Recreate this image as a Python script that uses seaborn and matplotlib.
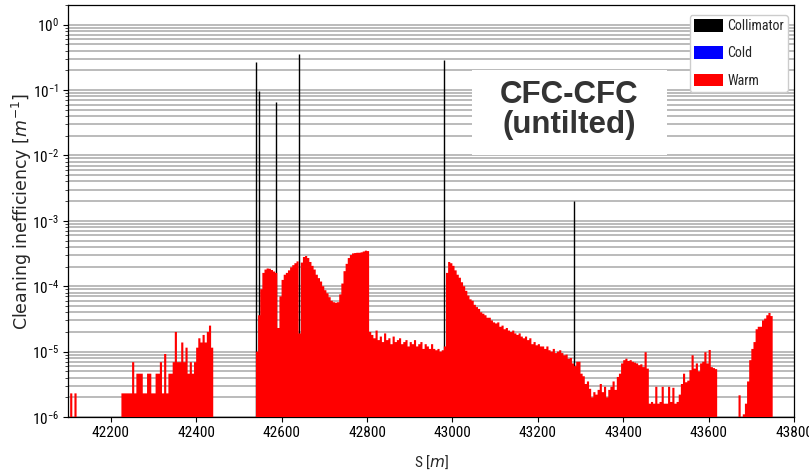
import numpy as np
import pandas as pd
import matplotlib
matplotlib.use("Agg")
import matplotlib.pyplot as plt
import seaborn as sns
from matplotlib import font_manager
from matplotlib.patches import Patch, Rectangle
from matplotlib.ticker import LogLocator, NullFormatter

# ---------------- data ----------------
# Warm-element losses, read per 5 m bin (values in units of 1e-6 m^-1)
BIN = 5.0
warm_seg1_start = 42100
warm_seg1 = [0, 2.3, 0, 2.3]
warm_seg2_start = 42225
warm_seg2 = [2.3, 2.3, 2.3, 2.3, 2.3, 6.9, 2.3, 4.6, 4.6, 4.6, 2.3, 2.3, 4.6, 4.6,
             2.3, 2.3, 4.6, 4.6, 6.9, 2.3, 9.2, 2.3, 4.6, 4.6, 6.9, 20, 6.9, 6.9,
             13.8, 6.9, 11.5, 4.6, 6.9, 4.6, 6.9, 11.5, 16, 13.8, 18, 13.8, 20, 25, 11.5]
warm_seg3_start = 42540
warm_seg3 = [10, 36, 90, 160, 180, 187, 185, 177, 168, 160, 23, 70, 125, 150, 160,
             175, 195, 210, 225, 240, 19, 230, 280, 290, 270, 235, 205, 180, 150,
             133, 118, 100, 87, 78, 68, 60, 57, 56, 57, 75, 110, 170, 220, 270, 300,
             318, 322, 325, 325, 330, 340, 350, 345, 20]
warm_seg4_start = 42810
warm_seg4 = [18, 16, 21, 15, 17, 14, 19, 15, 16, 13, 17, 14, 15, 16, 13, 14, 15, 12,
             14, 13, 15, 12, 13, 14, 11, 13, 12, 11, 13, 11, 10.5, 11, 10, 10.5]
warm_seg5_start = 42980
warm_seg5 = [12, 160, 235, 225, 205, 175, 150, 135, 115, 100,
             85, 72, 63, 60, 52, 48, 45, 40, 38, 36,
             33, 33, 30, 28, 27, 28, 24, 25, 22, 23,
             21, 20, 21, 19, 18, 19, 17, 16, 17, 15,
             16, 13, 14, 12.5, 13, 12, 12, 11, 12, 10.5,
             10, 11, 9.5, 10, 10.5, 9.5, 8.8, 9, 7.8, 8,
             6.6, 6, 7, 7]
warm_seg6_start = 43300
warm_seg6 = [4.6, 4.2, 3.2, 3.5, 2.7, 2.0, 2.4, 2.2, 2.6, 3.2,
             2.4, 2.9, 2.0, 2.6, 2.9, 3.5, 2.6, 4.1, 4.6, 6.6,
             7.4, 7.8, 7.2, 7.4, 7, 6.8, 6.6, 6.2, 6.4, 5.8,
             9.8, 5.5, 1.6, 1.7, 1.6, 2.9, 1.6, 1.7, 2.9, 1.6,
             1.6, 2.9, 1.7, 2.8, 1.6, 1.7, 2.2, 3.2, 4.6, 3.4,
             3.6, 5.2, 8.8, 5.5, 6.6, 5.0, 6.6, 7, 9.8, 6.6,
             10.6, 5.8, 5.6, 5.4]
warm_seg7_start = 43670
warm_seg7 = [2.15, 0, 1.1, 1.6, 3.5, 7.4, 11, 14, 22, 24, 24, 30, 32, 36, 39, 35]

# Collimator losses
coll_s = [42541, 42547, 42588, 42641, 42981, 43285]
coll_v = [0.27, 0.098, 0.066, 0.35, 0.29, 0.002]

x_ticks = [42200, 42400, 42600, 42800, 43000, 43200, 43400, 43600, 43800]
x_ticklabels = ["42200", "42400", "42600", "42800", "43000", "43200", "43400", "43600", "43800"]
legend_labels = ["Collimator", "Cold", "Warm"]
legend_colors = ["#000000", "#0000ff", "#ff0000"]
annotation = "CFC-CFC\n(untilted)"

# ---------------- build table ----------------
segments = [(warm_seg1_start, warm_seg1), (warm_seg2_start, warm_seg2),
            (warm_seg3_start, warm_seg3), (warm_seg4_start, warm_seg4),
            (warm_seg5_start, warm_seg5), (warm_seg6_start, warm_seg6),
            (warm_seg7_start, warm_seg7)]
s_list, v_list = [], []
for start, vals in segments:
    for i, v in enumerate(vals):
        s_list.append(start + BIN * i + BIN / 2)
        v_list.append(v * 1e-6)
df = pd.DataFrame({"S": s_list, "loss": v_list})
edges = [float(e) for e in np.arange(42100, 43750 + BIN, BIN)]

# ---------------- fonts: pick a narrow face if one is installed ----------------
entries = font_manager.fontManager.ttflist
names = {f.name for f in entries}
dejavu_cond = any(f.name == "DejaVu Sans" and "condensed" in str(f.stretch).lower()
                  for f in entries)
if "Liberation Sans Narrow" in names:
    narrow_family, narrow_stretch, tick_fs, leg_fs = "Liberation Sans Narrow", "normal", 11.5, 10.5
elif "Roboto Condensed" in names:
    narrow_family, narrow_stretch, tick_fs, leg_fs = "Roboto Condensed", "normal", 11, 10
elif dejavu_cond:
    narrow_family, narrow_stretch, tick_fs, leg_fs = "DejaVu Sans", "condensed", 10.5, 9.5
else:
    narrow_family, narrow_stretch, tick_fs, leg_fs = "DejaVu Sans", "normal", 9.5, 9

# ---------------- style ----------------
sns.set_style("white")
plt.rcParams["font.family"] = [narrow_family, "DejaVu Sans"]
plt.rcParams["font.stretch"] = narrow_stretch
plt.rcParams["mathtext.fontset"] = "dejavusans"

fig, ax = plt.subplots(figsize=(8.09, 4.76), dpi=100)
fig.subplots_adjust(left=0.0841, right=0.9815, bottom=0.1239, top=0.9895)

ax.vlines(coll_s, 1e-6, coll_v, colors="black", linewidth=1.0, zorder=2)
sns.histplot(data=df, x="S", weights="loss", bins=edges, element="step",
             fill=True, color="#ff0000", alpha=1.0, linewidth=0, ax=ax, zorder=3)

ax.set_yscale("log")
ax.set_ylim(1e-6, 2.0)
ax.set_xlim(42100, 43800)
ax.set_xticks(x_ticks)
ax.set_xticklabels(x_ticklabels)
ax.yaxis.set_major_locator(LogLocator(base=10, numticks=20))
ax.yaxis.set_minor_locator(LogLocator(base=10, subs=np.arange(2, 10), numticks=100))
ax.yaxis.set_minor_formatter(NullFormatter())

ax.set_axisbelow(True)
ax.yaxis.grid(True, which="both", color="#a8a8a8", linewidth=1.1)
ax.xaxis.grid(False)

for sp in ax.spines.values():
    sp.set_visible(True)
    sp.set_color("black")
    sp.set_linewidth(0.9)

ax.tick_params(axis="both", which="major", direction="out", length=3.5, width=0.8,
               pad=3, labelsize=tick_fs, left=True, bottom=True, colors="black")
ax.tick_params(axis="y", which="minor", direction="out", length=2, width=0.6, left=True)

ax.set_xlabel(r"S [$\mathit{m}$]", fontsize=tick_fs, labelpad=10)
ax.set_ylabel(r"Cleaning inefficiency [$\mathit{m}^{-1}$]", fontsize=12.5,
              family=["DejaVu Sans"], stretch="normal")
ax.yaxis.set_label_coords(-0.047, 0.5)

handles = [Patch(facecolor=c, edgecolor="none") for c in legend_colors]
ax.legend(handles, legend_labels, loc="upper right",
          bbox_to_anchor=(1 - 6 / 726, 1 - 10 / 412), borderaxespad=0,
          fontsize=leg_fs, handlelength=2.1, handleheight=1.0, labelspacing=0.95,
          handletextpad=0.3, borderpad=0.3,
          framealpha=1.0, edgecolor="#cccccc", fancybox=True)

ax.add_patch(Rectangle((472 / 809, 1 - 155 / 476), 195 / 809, 85 / 476,
                       transform=fig.transFigure, facecolor="white",
                       edgecolor="none", zorder=4))
ax.text(569 / 809, 1 - 110 / 476, annotation, transform=fig.transFigure,
        ha="center", va="center", fontsize=22.5, fontweight="bold",
        family=["Liberation Sans", "DejaVu Sans"], stretch="normal", color="#333333",
        linespacing=1.0, zorder=5)

fig.savefig("out.png", dpi=100)
